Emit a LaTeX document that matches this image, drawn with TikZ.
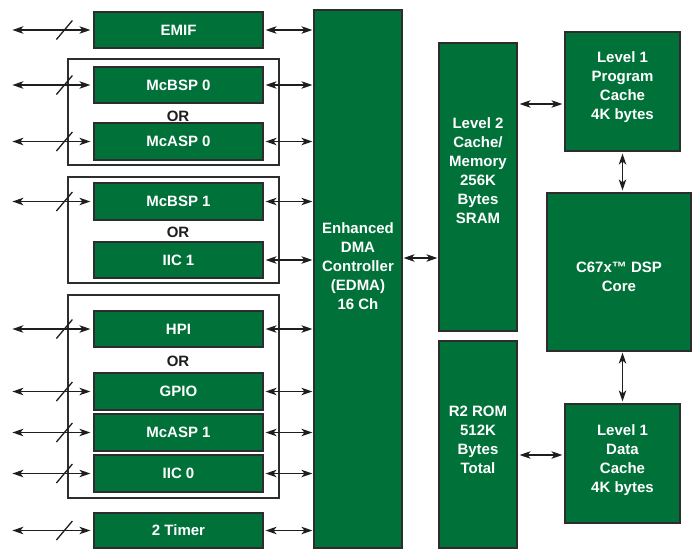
\documentclass[tikz,border=0pt]{standalone}
\usepackage{fontspec}
\setmainfont{Liberation Sans}
\usetikzlibrary{arrows.meta}
\definecolor{tig}{RGB}{0,114,57}
\definecolor{edgec}{RGB}{45,45,45}
\definecolor{inkc}{RGB}{30,30,30}
\newcommand\mkbox[6]{%
  \node[blk,minimum width={(#4-#2)*1pt},minimum height={(#5-#3)*1pt}] (#1) at ({(#2+#4)/2},{(#3+#5)/2}) {#6};}
\newcommand\mkgrp[5]{%
  \node[grp,minimum width={(#4-#2)*1pt},minimum height={(#5-#3)*1pt}] (#1) at ({(#2+#4)/2},{(#3+#5)/2}) {};}
\newcommand\extarrow[1]{%
  \coordinate (#1-ext) at ([xshift=-81pt]#1.west);
  \draw[biarrow,shorten >=3pt] (#1-ext) -- (#1.west);
  \draw[slashmark] ([xshift=-37pt,yshift=-9.5pt]#1.west) -- ++(16,-19);}
\newcommand\busarrow[1]{%
  \draw[biarrow,shorten <=2pt,shorten >=1pt] (#1.east) -- (#1.east -| edma.west);}
\begin{document}
\begin{tikzpicture}[x=1pt,y=-1pt,
  blk/.style={draw=edgec,line width=1.2pt,fill=tig,text=white,inner sep=0pt,
    font=\fontsize{15}{19}\selectfont\bfseries},
  grp/.style={draw=edgec,line width=1.3pt,inner sep=0pt},
  lbl/.style={text=white,font=\fontsize{15}{19}\selectfont\bfseries,align=center,inner sep=0pt},
  ortxt/.style={text=inkc,font=\fontsize{15}{19}\selectfont\bfseries,inner sep=0pt},
  biarrow/.style={draw=inkc,line width=1.3pt,
    {Stealth[length=11pt,width=7.5pt,inset=3pt]}-{Stealth[length=11pt,width=7.5pt,inset=3pt]}},
  slashmark/.style={draw=inkc,line width=1.3pt}
]
\fill[white] (0,0) rectangle (694,550);
\useasboundingbox (0,0) rectangle (694,550);

% groups
\mkgrp{g1}{68}{59}{279}{165}
\mkgrp{g2}{68}{177}{279}{283}
\mkgrp{g3}{68}{295}{279}{498}

% left blocks
\mkbox{emif}{94}{12}{263}{48}{EMIF}
\mkbox{mcbsp0}{94}{67}{263}{103}{McBSP 0}
\mkbox{mcasp0}{94}{123}{263}{160}{McASP 0}
\mkbox{mcbsp1}{94}{183}{263}{220}{McBSP 1}
\mkbox{iic1}{94}{242}{263}{278}{IIC 1}
\mkbox{hpi}{94}{311}{263}{347}{HPI}
\mkbox{gpio}{94}{373}{263}{410}{GPIO}
\mkbox{mcasp1}{94}{414}{263}{451}{McASP 1}
\mkbox{iic0}{94}{455}{263}{492}{IIC 0}
\mkbox{timer}{94}{513}{263}{548}{2 Timer}

\node[ortxt] (or1) at (178,116) {OR};
\node[ortxt] (or2) at (178,232) {OR};
\node[ortxt] (or3) at (178,361) {OR};

% main blocks
\mkbox{edma}{314}{10}{402}{548}{}
\mkbox{l2}{439}{43}{517}{331}{}
\mkbox{rom}{439}{341}{517}{548}{}
\mkbox{l1p}{565}{32}{680}{151}{}
\mkbox{core}{547}{193}{691}{351}{}
\mkbox{l1d}{565}{404}{680}{523}{}

\node[lbl] (edmaT) at (358,266.5) {Enhanced\\DMA\\Controller\\(EDMA)\\16 Ch};
\node[lbl] (l2T) at (478,171) {Level 2\\Cache/\\Memory\\256K\\Bytes\\SRAM};
\node[lbl] (romT) at (478,439.5) {R2 ROM\\512K\\Bytes\\Total};
\node[lbl] (l1pT) at (622.5,87) {Level 1\\Program\\Cache\\4K bytes};
\node[lbl] (coreT) at (619,276.5) {C67x™ DSP\\Core};
\node[lbl] (l1dT) at (622.5,460.5) {Level 1\\Data\\Cache\\4K bytes};

% external arrows
\extarrow{emif}
\extarrow{mcbsp0}
\extarrow{mcasp0}
\extarrow{mcbsp1}
\extarrow{hpi}
\extarrow{gpio}
\extarrow{mcasp1}
\extarrow{iic0}
\extarrow{timer}

% bus arrows
\busarrow{emif}
\busarrow{mcbsp0}
\busarrow{mcasp0}
\busarrow{mcbsp1}
\busarrow{iic1}
\busarrow{hpi}
\busarrow{gpio}
\busarrow{mcasp1}
\busarrow{iic0}
\busarrow{timer}

% internal arrows
\draw[biarrow,shorten <=1pt,shorten >=1pt] ([yshift=21pt]edma.east) coordinate (a1) -- (a1 -| l2.west);
\draw[biarrow,shorten <=2pt,shorten >=2pt] ([yshift=-12.5pt]l2.east |- l1p.west) coordinate (a2) -- (a2 -| l1p.west);
\draw[biarrow,shorten <=2pt,shorten >=2pt] (l1p.south) -- (l1p.south |- core.north);
\draw[biarrow,shorten <=2pt,shorten >=1pt] (l1d.north) -- (l1d.north |- core.south);
\draw[biarrow,shorten <=2pt,shorten >=2pt] ([yshift=8.5pt]rom.east |- l1d.west) coordinate (a3) -- (a3 -| l1d.west);
\end{tikzpicture}
\end{document}
